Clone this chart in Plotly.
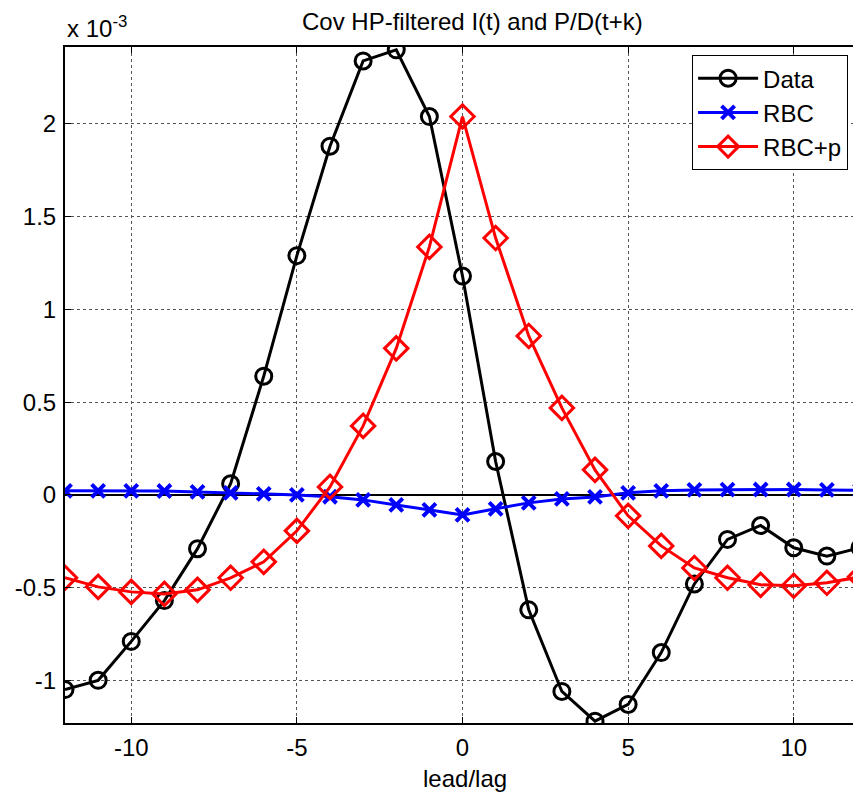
import plotly.graph_objects as go

# lead/lag k
lags = list(range(-12, 13))
# values in units of 1e-3
data_vals = [-1.05, -1.00, -0.79, -0.57, -0.29, 0.06, 0.64, 1.29, 1.88, 2.34, 2.40, 2.04,
             1.18, 0.18, -0.62, -1.06, -1.22, -1.13, -0.85, -0.48, -0.24, -0.165, -0.285, -0.33, -0.285]
rbc_vals = [0.022, 0.022, 0.022, 0.021, 0.016, 0.011, 0.005, 0.0, -0.01, -0.027, -0.054, -0.081,
            -0.108, -0.075, -0.043, -0.022, -0.011, 0.011, 0.022, 0.027, 0.028, 0.029, 0.029, 0.027, 0.024]
rbcp_vals = [-0.447, -0.496, -0.523, -0.534, -0.512, -0.447, -0.361, -0.194, 0.043, 0.372, 0.79, 1.337,
             2.04, 1.385, 0.857, 0.469, 0.135, -0.113, -0.275, -0.394, -0.447, -0.485, -0.49, -0.474, -0.442]

ytick_vals = [-1, -0.5, 0, 0.5, 1, 1.5, 2]
ytick_text = ["-1", "-0.5", "0", "0.5", "1", "1.5", "2"]
xtick_vals = [-10, -5, 0, 5, 10]
xtick_text = ["-10", "-5", "0", "5", "10"]

font = "Liberation Sans, Arial, sans-serif"
fs = 24

fig = go.Figure()
fig.add_trace(go.Scatter(x=lags, y=data_vals, name="Data", mode="lines+markers",
                         line=dict(color="black", width=3),
                         marker=dict(symbol="circle-open", size=16, color="black", line=dict(width=3, color="black"))))
fig.add_trace(go.Scatter(x=lags, y=rbc_vals, name="RBC", mode="lines+markers",
                         line=dict(color="blue", width=3),
                         marker=dict(symbol="x-thin-open", size=13, color="blue", line=dict(width=4, color="blue"))))
fig.add_trace(go.Scatter(x=lags, y=rbcp_vals, name="RBC+p", mode="lines+markers",
                         line=dict(color="red", width=3),
                         marker=dict(symbol="diamond-open", size=18, color="red", line=dict(width=3, color="red"))))

axis_common = dict(showline=True, linecolor="black", linewidth=2, mirror="ticks",
                   ticks="inside", ticklen=6, tickcolor="black", automargin=False,
                   showgrid=True, gridcolor="#555555", griddash="dot", gridwidth=1,
                   tickfont=dict(family=font, size=fs, color="black"))

fig.update_xaxes(range=[-12, 12], tickvals=xtick_vals, ticktext=xtick_text, zeroline=False,
                 ticklabelstandoff=2, **axis_common)
fig.update_yaxes(range=[-1.23, 2.415], tickvals=ytick_vals, ticktext=ytick_text,
                 ticklabelstandoff=2,
                 zeroline=True, zerolinecolor="black", zerolinewidth=2, **axis_common)

fig.add_annotation(text="x 10<sup>-3</sup>", xref="paper", yref="paper", x=0, y=1.0,
                   xanchor="left", yanchor="bottom", showarrow=False, yshift=3,
                   font=dict(family=font, size=fs, color="black"))
fig.add_annotation(text="lead/lag", xref="paper", yref="paper", x=0.503, y=0,
                   xanchor="center", yanchor="top", showarrow=False, yshift=-40,
                   font=dict(family=font, size=fs, color="black"))
fig.add_annotation(text="Cov HP-filtered I(t) and P/D(t+k)", xref="paper", yref="paper", x=0.513, y=1.0,
                   xanchor="center", yanchor="bottom", showarrow=False, yshift=10,
                   font=dict(family=font, size=fs, color="black"))

fig.update_layout(
    width=853, height=786,
    margin=dict(l=57, r=1, t=39, b=71, autoexpand=False),
    paper_bgcolor="white", plot_bgcolor="white",
    legend=dict(x=0.985, y=0.988, xanchor="right", yanchor="top", bgcolor="white",
                bordercolor="black", borderwidth=1, font=dict(family=font, size=fs, color="black"),
                itemwidth=60, tracegroupgap=0),
    showlegend=True,
)

fig.write_html("out.html")
